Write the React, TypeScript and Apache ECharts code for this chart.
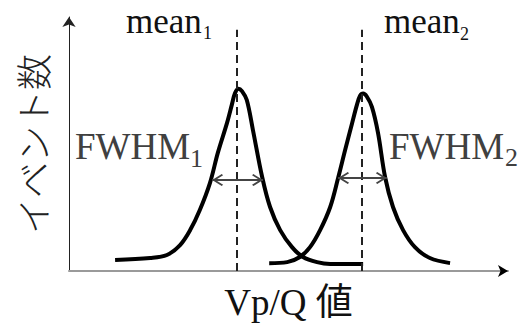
import React, { useEffect, useRef } from "react";
import * as echarts from "echarts";

// Peak profiles, [Vp/Q, event count] in arbitrary units
const peak1Profile: [number, number][] = [
  [10.5, 4.3], [18.5, 5.1], [22.3, 6.3], [25.3, 10.2], [27.6, 16.1],
  [29.8, 24.0], [32.1, 34.6], [33.9, 46.5], [36.0, 58.3], [37.1, 65.5],
  [37.8, 70.0], [38.6, 71.8], [39.4, 70.8], [40.5, 67.3], [41.9, 55.5],
  [44.0, 37.0], [45.8, 25.2], [48.1, 16.1], [50.8, 9.4], [53.3, 5.5],
  [56.5, 3.5], [59.5, 2.8], [67.0, 2.8],
];
const peak2Profile: [number, number][] = [
  [45.6, 3.1], [49.7, 3.5], [52.6, 5.5], [54.9, 9.4], [57.2, 16.1],
  [59.5, 25.2], [61.3, 36.6], [62.9, 47.6], [64.5, 58.3], [65.6, 65.5],
  [66.3, 69.0], [67.0, 69.9], [67.8, 68.8], [69.0, 64.6], [70.4, 54.3],
  [72.0, 37.0], [73.8, 25.2], [76.1, 16.1], [78.8, 9.4], [82.2, 5.1], [86.8, 3.1],
];

// Peak centres and the top of their guide lines
const meanPositions = [38.3, 66.7];
const meanLineTop = 95;

// Full width at half maximum: [left, right] at the half-height level
const fwhmSpans: [number, number][] = [[32.6, 44.2], [61.3, 72.4]];
const fwhmLevels = [35.8, 36.6];

const axisMin = 0;
const axisMax = 100;

const xAxisTitle = "Vp/Q 値";
const yAxisTitle = "イベント数";

const SERIF = "'Liberation Serif', 'Times New Roman', serif";
const CJK = "'Noto Sans CJK JP', sans-serif";

// Open chevron head, tip at the symbol centre
const chevron =
  "path://M5 8 L10 15 L9 16 L5 10.5 L1 16 L0 15 Z M5 0 L5.01 0.01 L4.99 0.01 Z";

const GRID = { left: 69, right: 11, top: 17, bottom: 55 };
const PLOT_HEIGHT = 326 - GRID.top - GRID.bottom;

export default function App() {
  const ref = useRef<HTMLDivElement>(null);

  useEffect(() => {
    if (!ref.current) return;
    const chart = echarts.init(ref.current, undefined, { renderer: "svg" });

    const hiddenAxisParts = {
      axisTick: { show: false },
      axisLabel: { show: false },
      splitLine: { show: false },
    };

    const curveStyle = { color: "#000", width: 4 };

    chart.setOption({
      animation: false,
      backgroundColor: "#fff",
      grid: GRID,
      xAxis: [
        {
          type: "value",
          position: "bottom",
          min: axisMin,
          max: axisMax,
          name: xAxisTitle,
          nameLocation: "middle",
          nameGap: 13,
          nameTextStyle: { fontFamily: `${SERIF}, ${CJK}`, fontSize: 37, color: "#111" },
          axisLine: { show: true, onZero: false, lineStyle: { color: "#9a9a9a", width: 2 } },
          ...hiddenAxisParts,
        },
        {
          // carries only the arrow head of the horizontal axis
          type: "value",
          position: "top",
          offset: -PLOT_HEIGHT,
          min: axisMin,
          max: axisMax,
          axisLine: {
            show: true,
            onZero: false,
            symbol: ["none", "arrow"],
            symbolSize: [9, 10],
            lineStyle: { color: "#000", width: 0 },
          },
          ...hiddenAxisParts,
        },
      ],
      yAxis: {
        type: "value",
        min: axisMin,
        max: axisMax,
        name: yAxisTitle,
        nameLocation: "middle",
        nameRotate: 90,
        nameGap: 19,
        nameTextStyle: { fontFamily: CJK, fontSize: 36, fontWeight: 300, color: "#222" },
        axisLine: {
          show: true,
          onZero: false,
          symbol: ["none", "arrow"],
          symbolSize: [10, 10],
          lineStyle: { color: "#222", width: 1 },
        },
        ...hiddenAxisParts,
      },
      series: [
        {
          type: "line",
          data: peak1Profile,
          smooth: 0.35,
          showSymbol: false,
          lineStyle: curveStyle,
          markLine: {
            silent: true,
            symbol: "none",
            label: { show: false },
            lineStyle: { color: "#222", width: 2, type: [8, 5] },
            data: meanPositions.map((m) => [
              { coord: [m, axisMin] },
              { coord: [m, meanLineTop] },
            ]),
          },
        },
        {
          type: "line",
          data: peak2Profile,
          smooth: 0.35,
          showSymbol: false,
          lineStyle: curveStyle,
          markLine: {
            silent: true,
            symbol: [chevron, chevron],
            symbolSize: [12, 22],
            label: { show: false },
            lineStyle: { color: "#444", width: 2, type: "solid" },
            data: fwhmSpans.map(([a, b], i) => [
              { coord: [a, fwhmLevels[i]] },
              { coord: [b, fwhmLevels[i]] },
            ]),
          },
        },
      ],
      graphic: [
        { type: "text", x: 126, y: 21, style: { text: "mean", font: `35px ${SERIF}`, fill: "#111", verticalAlign: "middle" } },
        { type: "text", x: 203, y: 33, style: { text: "1", font: `18px ${SERIF}`, fill: "#111", verticalAlign: "middle" } },
        { type: "text", x: 384, y: 21, style: { text: "mean", font: `35px ${SERIF}`, fill: "#111", verticalAlign: "middle" } },
        { type: "text", x: 460, y: 34, style: { text: "2", font: `18px ${SERIF}`, fill: "#111", verticalAlign: "middle" } },
        { type: "text", x: 75, y: 146, style: { text: "FWHM", font: `37px ${SERIF}`, fill: "#404040", verticalAlign: "middle" } },
        { type: "text", x: 190, y: 158, style: { text: "1", font: `26px ${SERIF}`, fill: "#404040", verticalAlign: "middle" } },
        { type: "text", x: 389, y: 146, style: { text: "FWHM", font: `37px ${SERIF}`, fill: "#404040", verticalAlign: "middle" } },
        { type: "text", x: 505, y: 157, style: { text: "2", font: `26px ${SERIF}`, fill: "#404040", verticalAlign: "middle" } },
      ],
    });

    return () => chart.dispose();
  }, []);

  return (
    <div
      ref={ref}
      style={{ position: "fixed", left: 0, top: 0, width: 519, height: 326 }}
    />
  );
}
